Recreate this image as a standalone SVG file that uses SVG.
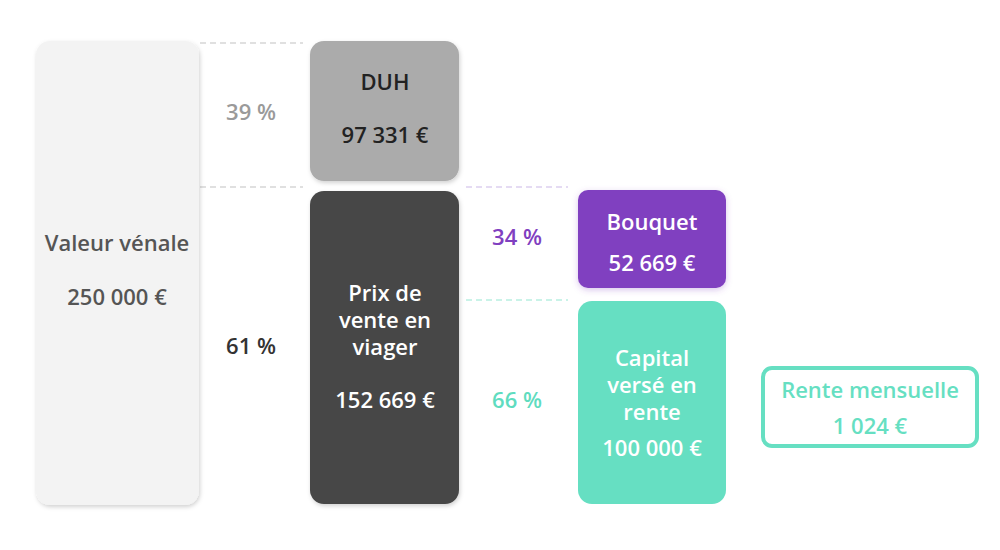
<svg xmlns="http://www.w3.org/2000/svg" width="1000" height="550" viewBox="0 0 1000 550">
<defs>
<filter id="sh" x="-20%" y="-20%" width="140%" height="140%">
<feDropShadow dx="1" dy="2" stdDeviation="2" flood-color="#000" flood-opacity="0.18"/>
</filter>
<filter id="shp" x="-20%" y="-20%" width="140%" height="140%">
<feDropShadow dx="0" dy="2" stdDeviation="3" flood-color="#8040c0" flood-opacity="0.3"/>
</filter>
</defs>
<style>
text{font-family:"Open Sans","Lato","DejaVu Sans",sans-serif;font-weight:600;font-size:22px;text-anchor:middle}
.w{fill:#ffffff}
.d{fill:#555555}
.k{fill:#222222}
.conn line{stroke-width:1.3;stroke-dasharray:6 4}
</style>
<rect width="1000" height="550" fill="#ffffff"/>
<g class="conn" id="connectors">
<line x1="200" y1="43" x2="303" y2="43" stroke="#d6d6d6"/>
<line x1="200" y1="187" x2="303" y2="187" stroke="#d6d6d6"/>
<line x1="466" y1="187" x2="568" y2="187" stroke="#ddd0f0"/>
<line x1="466" y1="300" x2="568" y2="300" stroke="#b8efe1"/>
</g>
<g id="valeur">
<rect x="36" y="41" width="163" height="464" rx="14" fill="#f3f3f3" filter="url(#sh)"/>
<text x="117" y="251" class="d">Valeur vénale</text>
<text x="117" y="305" class="d">250 000 €</text>
</g>
<g id="pct39"><text x="251" y="120" fill="#9a9a9a">39 %</text></g>
<g id="pct61"><text x="251" y="354" fill="#333333">61 %</text></g>
<g id="duh">
<rect x="310" y="41" width="149" height="140" rx="14" fill="#ababab" filter="url(#sh)"/>
<text x="385" y="90" class="k">DUH</text>
<text x="385" y="143" class="k">97 331 €</text>
</g>
<g id="prix">
<rect x="310" y="191" width="149" height="313" rx="14" fill="#474747" filter="url(#sh)"/>
<text x="385" y="301" class="w">Prix de</text>
<text x="385" y="328" class="w">vente en</text>
<text x="385" y="355" class="w">viager</text>
<text x="385" y="408" class="w">152 669 €</text>
</g>
<g id="pct34"><text x="517" y="245" fill="#8040c0">34 %</text></g>
<g id="pct66"><text x="517" y="408" fill="#5fdcbf">66 %</text></g>
<g id="bouquet">
<rect x="578" y="190" width="148" height="98" rx="10" fill="#8040c0" filter="url(#shp)"/>
<text x="652" y="230" class="w">Bouquet</text>
<text x="652" y="271" class="w">52 669 €</text>
</g>
<g id="capital">
<rect x="578" y="301" width="148" height="203" rx="14" fill="#66dfc2"/>
<text x="652" y="366" class="w">Capital</text>
<text x="652" y="393" class="w">versé en</text>
<text x="652" y="420" class="w">rente</text>
<text x="652" y="456" class="w">100 000 €</text>
</g>
<g id="rente">
<rect x="763" y="368" width="214" height="78" rx="9" fill="#ffffff" stroke="#66dfc2" stroke-width="4"/>
<text x="870" y="398" fill="#66dfc2">Rente mensuelle</text>
<text x="870" y="434" fill="#66dfc2">1 024 €</text>
</g>
</svg>
